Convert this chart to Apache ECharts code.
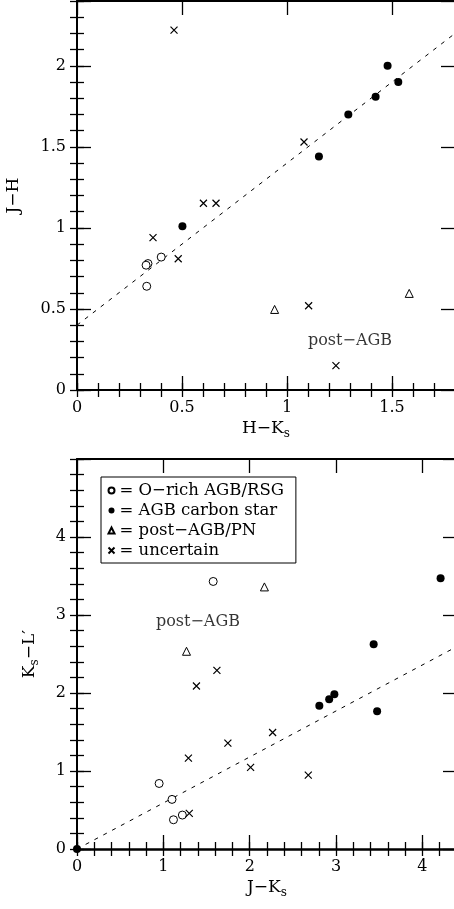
<!DOCTYPE html>
<html><head><meta charset="utf-8">
<script src="https://cdn.jsdelivr.net/npm/echarts@6/dist/echarts.min.js"></script>
<style>html,body{margin:0;padding:0;background:#fff}#c{width:454px;height:909px}</style>
</head><body><div id="c"></div>
<script>
const FONT = '"DejaVu Serif", serif';

// ---- Series names ----
const names = ['O−rich AGB/RSG', 'AGB carbon star', 'post−AGB/PN', 'uncertain'];

// ---- Top panel: H−Ks (x) vs J−H (y) ----
const topORichX = [0.338, 0.329, 0.401, 0.332];
const topORichY = [0.78, 0.77, 0.82, 0.64];
const topCarbonX = [1.479, 1.530, 1.422, 1.292, 1.152, 0.502];
const topCarbonY = [2.00, 1.90, 1.81, 1.70, 1.44, 1.01];
const topPostX = [0.941, 1.582];
const topPostY = [0.497, 0.596];
const topUncX = [0.462, 1.081, 0.602, 0.662, 0.362, 0.482, 1.103, 1.233];
const topUncY = [2.22, 1.53, 1.152, 1.152, 0.94, 0.81, 0.52, 0.15];
const topFitX = [0, 1.8];
const topFitY = [0.4, 2.2];
const topNoteX = [1.30];
const topNoteY = [0.305];
const topNoteText = ['post−AGB'];

// ---- Bottom panel: J−Ks (x) vs Ks−L' (y) ----
const botORichX = [1.577, 0.951, 1.10, 1.117, 1.22];
const botORichY = [3.43, 0.84, 0.636, 0.375, 0.435];
const botCarbonX = [4.21, 3.435, 2.806, 2.92, 2.98, 3.475, 0];
const botCarbonY = [3.47, 2.625, 1.835, 1.92, 1.985, 1.767, 0];
const botPostX = [2.17, 1.268];
const botPostY = [3.36, 2.535];
const botUncX = [1.62, 1.383, 2.265, 1.747, 1.29, 2.01, 2.678, 1.30];
const botUncY = [2.29, 2.09, 1.494, 1.357, 1.165, 1.046, 0.947, 0.456];
const botFitX = [0.1, 4.4];
const botFitY = [0.059, 2.596];
const botNoteX = [1.40];
const botNoteY = [2.91];
const botNoteText = ['post−AGB'];

// ---- Axis ranges / ticks ----
const topXRange = [0, 1.8], topXMajor = 0.5, topXMinor = 0.1;
const topYRange = [0, 2.4], topYMajor = 0.5, topYMinor = 0.1;
const botXRange = [0, 4.4], botXMajor = 1, botXMinor = 0.2;
const botYRange = [0, 5], botYMajor = 1, botYMinor = 0.2;

const zip = (xs, ys) => xs.map((x, i) => [x, ys[i]]);

const nameStyle = {
  fontFamily: FONT, fontSize: 17, color: '#000',
  rich: {
    m: {fontFamily: FONT, fontSize: 17, color: '#000', verticalAlign: 'top', lineHeight: 20},
    s: {fontFamily: FONT, fontSize: 12, color: '#000', verticalAlign: 'bottom', lineHeight: 12, padding: [10, 0, 0, 0]}
  }
};

function axisSet(dim, gridIndex, range, major, minor, name, nameGap, labelMargin, lineW) {
  const lo = dim === 'x' ? 'bottom' : 'left';
  const hi = dim === 'x' ? 'top' : 'right';
  const fmt = v => {
    const r = v / major;
    if (Math.abs(r - Math.round(r)) > 1e-6 || v > range[1] - 1e-9) return '';
    return String(+v.toFixed(2));
  };
  const base = {type: 'value', gridIndex, min: range[0], max: range[1], splitLine: {show: false}, splitArea: {show: false}};
  const line = w => ({show: true, onZero: false, lineStyle: {color: '#000', width: w}});
  const tick = len => ({show: true, inside: true, length: len, lineStyle: {color: '#000', width: 1.3}});
  return [
    Object.assign({}, base, {position: lo, interval: major, axisLine: line(lineW), axisTick: tick(14),
      axisLabel: {show: true, margin: labelMargin, fontFamily: FONT, fontSize: 16, color: '#000', formatter: fmt},
      name, nameLocation: 'middle', nameGap, nameTextStyle: nameStyle}),
    Object.assign({}, base, {position: lo, interval: minor, axisLine: {show: false}, axisTick: tick(7), axisLabel: {show: false}}),
    Object.assign({}, base, {position: hi, interval: major, axisLine: line(2), axisTick: tick(14), axisLabel: {show: false}}),
    Object.assign({}, base, {position: hi, interval: minor, axisLine: {show: false}, axisTick: tick(7), axisLabel: {show: false}})
  ];
}

const xAxes = [
  ...axisSet('x', 0, topXRange, topXMajor, topXMinor, '{m|H−K}{s|s}', 30, 10, 2),
  ...axisSet('x', 1, botXRange, botXMajor, botXMinor, '{m|J−K}{s|s}', 30, 10, 2.6)
];
const yAxes = [
  ...axisSet('y', 0, topYRange, topYMajor, topYMinor, '{m|J−H}', 52, 11, 2),
  ...axisSet('y', 1, botYRange, botYMajor, botYMinor, '{m|K}{s|s}{m|−L′}', 36, 11, 2)
];

const styles = [
  {symbol: 'circle', symbolSize: 8, itemStyle: {color: '#fff', borderColor: '#000', borderWidth: 1, opacity: 1}},
  {symbol: 'circle', symbolSize: 8, itemStyle: {color: '#000', borderColor: '#000', borderWidth: 0, opacity: 1}},
  {symbol: 'triangle', symbolSize: 8, itemStyle: {color: '#fff', borderColor: '#000', borderWidth: 1, opacity: 1}},
  {symbol: 'path://M0 0L10 10M10 0L0 10', symbolSize: 7, itemStyle: {color: 'none', borderColor: '#000', borderWidth: 1.2, opacity: 1}}
];

function scatter(k, ai, data) {
  return Object.assign({type: 'scatter', name: names[k], xAxisIndex: ai, yAxisIndex: ai, data, clip: false, silent: true, z: 5}, styles[k]);
}
function fit(ai, data) {
  return {type: 'line', xAxisIndex: ai, yAxisIndex: ai, data, symbol: 'none', silent: true, z: 3,
    lineStyle: {color: '#000', width: 1, type: [4, 6]}};
}
function note(ai, xs, ys, ts) {
  return {type: 'scatter', xAxisIndex: ai, yAxisIndex: ai, data: xs.map((x, i) => [x, ys[i], ts[i]]),
    symbolSize: 1, itemStyle: {color: 'rgba(0,0,0,0)'}, silent: true,
    label: {show: true, position: 'inside', formatter: p => p.data[2], fontFamily: FONT, fontSize: 16, color: '#000'}};
}

const option = {
  animation: false,
  backgroundColor: '#fff',
  grid: [
    {left: 77, top: 1, width: 378, height: 389, containLabel: false, outerBoundsMode: 'none'},
    {left: 77, top: 459, width: 380, height: 390, containLabel: false, outerBoundsMode: 'none'}
  ],
  xAxis: xAxes,
  yAxis: yAxes,
  legend: {
    show: true, selectedMode: false, orient: 'vertical', left: 101, top: 477,
    padding: [5, 12, 4, 5], itemGap: 3, itemWidth: 6, itemHeight: 6, itemTextGap: 17,
    borderColor: '#000', borderWidth: 1, backgroundColor: '#fff',
    formatter: n => '= ' + n,
    textStyle: {fontFamily: FONT, fontSize: 16.5, color: '#000'},
    data: names
  },
  series: [
    fit(0, zip(topFitX, topFitY)),
    scatter(0, 0, zip(topORichX, topORichY)),
    scatter(1, 0, zip(topCarbonX, topCarbonY)),
    scatter(2, 0, zip(topPostX, topPostY)),
    scatter(3, 0, zip(topUncX, topUncY)),
    note(0, topNoteX, topNoteY, topNoteText),
    fit(4, zip(botFitX, botFitY)),
    scatter(0, 4, zip(botORichX, botORichY)),
    scatter(1, 4, zip(botCarbonX, botCarbonY)),
    scatter(2, 4, zip(botPostX, botPostY)),
    scatter(3, 4, zip(botUncX, botUncY)),
    note(4, botNoteX, botNoteY, botNoteText)
  ]
};

const chart = echarts.init(document.getElementById('c'), null, {renderer: 'canvas'});
chart.setOption(option);
</script>
</body></html>
